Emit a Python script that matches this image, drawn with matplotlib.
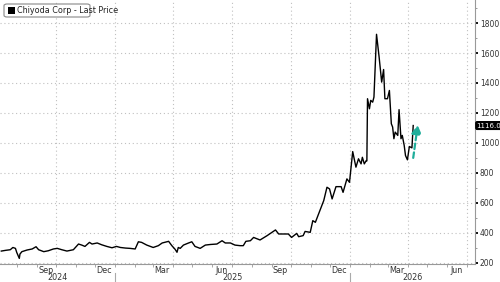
import matplotlib
matplotlib.use("Agg")
import matplotlib.pyplot as plt
import matplotlib.dates as mdates
import matplotlib.transforms as mtransforms
from matplotlib.patches import FancyBboxPatch, Rectangle
import pandas as pd

plt.rcParams['font.family'] = ['Liberation Sans Narrow', 'DejaVu Sans']

dates = [
    "2024-07-08", "2024-07-15", "2024-07-22", "2024-07-26", "2024-07-30", "2024-08-01",
    "2024-08-05", "2024-08-06", "2024-08-09", "2024-08-17", "2024-08-25", "2024-08-31",
    "2024-09-04", "2024-09-12", "2024-09-19", "2024-09-27", "2024-10-03", "2024-10-10",
    "2024-10-18", "2024-10-28", "2024-11-05", "2024-11-10", "2024-11-15", "2024-11-22",
    "2024-11-26", "2024-12-04", "2024-12-11", "2024-12-19", "2024-12-27", "2025-01-03",
    "2025-01-09", "2025-01-17", "2025-01-24", "2025-02-01", "2025-02-06", "2025-02-11",
    "2025-02-19", "2025-03-01", "2025-03-09", "2025-03-15", "2025-03-25", "2025-03-30",
    "2025-04-04", "2025-04-07", "2025-04-09", "2025-04-12", "2025-04-17", "2025-04-25",
    "2025-04-30", "2025-05-05", "2025-05-13", "2025-05-21", "2025-05-29", "2025-06-08",
    "2025-06-16", "2025-06-21", "2025-06-29", "2025-07-06", "2025-07-14", "2025-07-19",
    "2025-07-23", "2025-07-30", "2025-08-04", "2025-08-14", "2025-08-25", "2025-09-07",
    "2025-09-12", "2025-09-27", "2025-10-02", "2025-10-10", "2025-10-13", "2025-10-20",
    "2025-10-23", "2025-10-31", "2025-11-04", "2025-11-08", "2025-11-13", "2025-11-21",
    "2025-11-26", "2025-11-30", "2025-12-04", "2025-12-10", "2025-12-18", "2025-12-21",
    "2025-12-27", "2025-12-31", "2026-01-05", "2026-01-10", "2026-01-14", "2026-01-18",
    "2026-01-20", "2026-01-23", "2026-01-26", "2026-01-27", "2026-01-28", "2026-01-31",
    "2026-02-02", "2026-02-05", "2026-02-07", "2026-02-11", "2026-02-15", "2026-02-19",
    "2026-02-22", "2026-02-24", "2026-02-28", "2026-03-03", "2026-03-06", "2026-03-08",
    "2026-03-10", "2026-03-12", "2026-03-16", "2026-03-18", "2026-03-21", "2026-03-23",
    "2026-03-26", "2026-03-28", "2026-03-31", "2026-04-03", "2026-04-07", "2026-04-09",
]
prices = [
    278, 283, 287, 302, 296, 269,
    229, 258, 274, 285, 292, 307,
    287, 274, 280, 292, 296, 287,
    278, 287, 325, 318, 309, 336,
    325, 332, 320, 309, 300, 309,
    302, 298, 296, 292, 340, 336,
    318, 302, 314, 332, 343, 314,
    290, 270, 302, 296, 318, 332,
    340, 309, 296, 318, 322, 325,
    347, 332, 332, 318, 314, 314,
    343, 347, 369, 352, 381, 419,
    392, 392, 369, 396, 374, 381,
    409, 403, 481, 470, 526, 615,
    704, 693, 626, 708, 708, 670,
    760, 737, 942, 838, 894, 860,
    904, 860, 882, 880, 1295, 1228,
    1284, 1272, 1306, 1725, 1574, 1406,
    1490, 1295, 1295, 1350, 1128, 1106,
    1028, 1072, 1050, 1222, 1028, 1050,
    983, 916, 887, 976, 967, 1116,
]
series_name = "Chiyoda Corp - Last Price"
last_label = "1116.0"
yticks = [200, 400, 600, 800, 1000, 1200, 1400, 1600, 1800]
month_label_dates = ["2024-09-15", "2024-12-15", "2025-03-15", "2025-06-15",
                     "2025-09-15", "2025-12-15", "2026-03-15", "2026-06-15"]
month_labels = ["Sep", "Dec", "Mar", "Jun", "Sep", "Dec", "Mar", "Jun"]
grid_dates = ["2024-10-01", "2025-01-01", "2025-04-01", "2025-07-01",
              "2025-10-01", "2026-01-01", "2026-04-01", "2026-07-01"]
year_bounds = ["2025-01-01", "2026-01-01"]
year_labels = ["2024", "2025", "2026"]

x = pd.to_datetime(dates)
xmin = pd.Timestamp("2024-07-06")
xmax = pd.Timestamp("2026-07-14")

fig = plt.figure(figsize=(5.0, 2.82), dpi=100)
ax = fig.add_axes([0.0, 18.5 / 282, 0.95, 263.5 / 282])
ax.set_xlim(xmin, xmax)
ax.set_ylim(195, 1954)

ax.plot(x, prices, color="black", lw=1.0, zorder=3)

# y axis
ax.set_yticks(yticks)
ax.set_yticks(range(300, 1901, 200), minor=True)
ax.yaxis.tick_right()
ax.tick_params(axis="y", which="major", direction="out", length=2.5, width=1.3,
               color="black", labelsize=5.5, labelcolor="#333333", pad=1)
ax.tick_params(axis="y", which="minor", direction="out", length=1.5, width=0.6, color="#888888")
ax.grid(axis="y", which="major", color="#c0c0c0", linestyle=(0, (1, 2.5)), lw=0.8)

# x axis
ax.set_xticks(pd.to_datetime(month_label_dates))
ax.set_xticklabels(month_labels)
ax.xaxis.set_minor_locator(mdates.MonthLocator())
ax.tick_params(axis="x", which="major", length=0, labelsize=5.8, labelcolor="#333333", pad=2)
ax.tick_params(axis="x", which="minor", length=2, width=0.6, color="#999999")
for g in grid_dates:
    ax.axvline(pd.Timestamp(g), color="#c0c0c0", linestyle=(0, (1, 2.5)), lw=0.8, zorder=1)

for s in ["top", "left"]:
    ax.spines[s].set_visible(False)
ax.spines["right"].set_color("#999999")
ax.spines["right"].set_linewidth(0.8)
ax.spines["bottom"].set_color("#999999")
ax.spines["bottom"].set_linewidth(0.8)

# year separators and labels
trans = mtransforms.blended_transform_factory(ax.transData, ax.transAxes)
for yb in year_bounds:
    xb = mdates.date2num(pd.Timestamp(yb))
    ax.plot([xb, xb], [-0.035, -0.075], transform=trans, color="#aaaaaa", lw=0.8, clip_on=False)
edges = [mdates.date2num(xmin)] + [mdates.date2num(pd.Timestamp(b)) for b in year_bounds] + [mdates.date2num(xmax)]
for i, lab in enumerate(year_labels):
    cx = (edges[i] + edges[i + 1]) / 2
    ax.text(cx, -0.055, lab, transform=trans, ha="center", va="center",
            fontsize=5.8, color="#333333", clip_on=False)

# legend box
fig.patches.append(FancyBboxPatch((4 / 500, 1 - 17 / 282), 86 / 500, 13 / 282,
                                  boxstyle="round,pad=0,rounding_size=0.006",
                                  transform=fig.transFigure, facecolor="white",
                                  edgecolor="#888888", lw=0.8, zorder=5))
fig.patches.append(Rectangle((8 / 500, 1 - 14 / 282), 7 / 500, 7 / 282,
                             transform=fig.transFigure, facecolor="black",
                             edgecolor="none", zorder=6))
fig.text(17 / 500, 1 - 10.5 / 282, series_name, fontsize=5.8, color="#222222",
         va="center", ha="left", zorder=7)

# last price tag
ax.annotate(last_label, xy=(1.0, prices[-1]), xycoords=("axes fraction", "data"),
            xytext=(1.2, 0), textcoords="offset points", ha="left", va="center",
            fontsize=5.0, color="white",
            bbox=dict(boxstyle="round,pad=0.12,rounding_size=0.2", fc="black", ec="black"),
            annotation_clip=False, zorder=8)

# teal dashed arrow
ax.annotate("", xy=(pd.Timestamp("2026-04-16"), 1118), xytext=(pd.Timestamp("2026-04-09"), 900),
            arrowprops=dict(arrowstyle="-|>,head_length=0.5,head_width=0.3", color="#1fae9b",
                            lw=1.6, linestyle=(0, (2.5, 1.5)), shrinkA=0, shrinkB=0),
            zorder=4)

fig.savefig("out.png", dpi=100)
